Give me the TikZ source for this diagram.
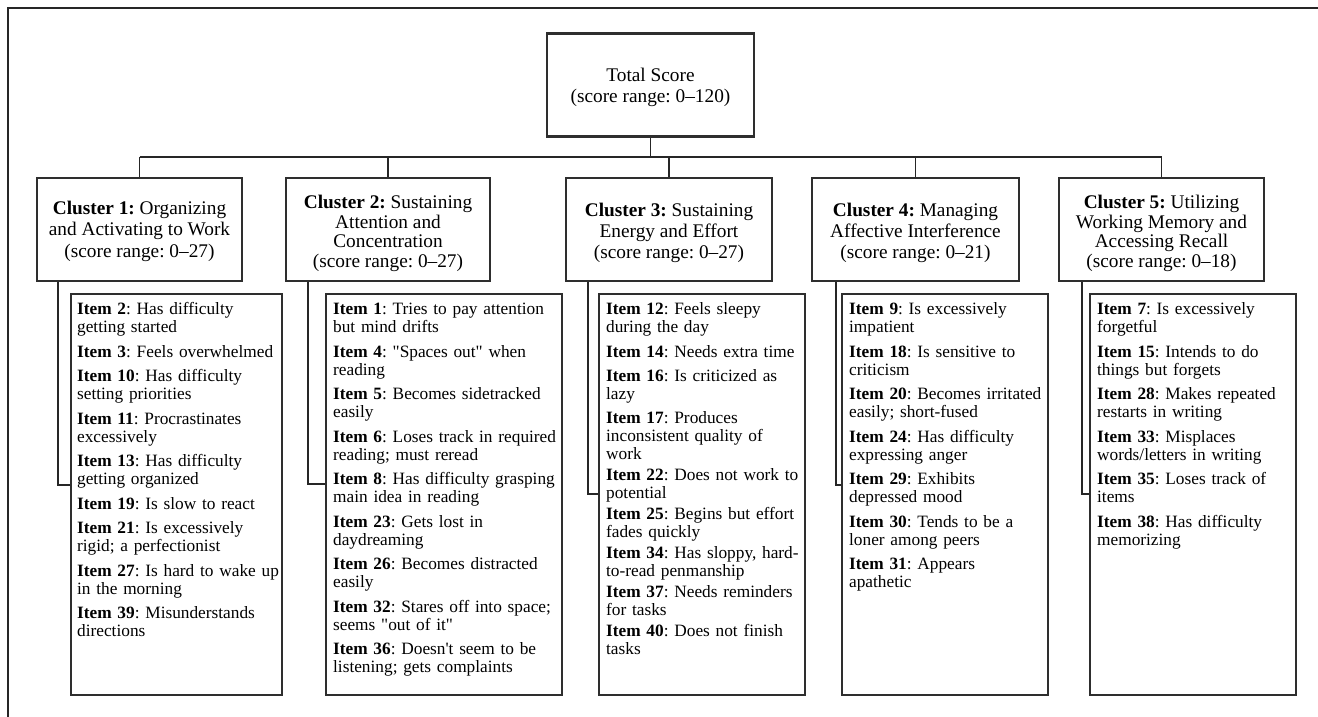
\documentclass[tikz,border=0pt]{standalone}
\usepackage{fontspec}
\setmainfont{Liberation Serif}
\frenchspacing
\begin{document}
\begin{tikzpicture}[x=1pt,y=-1pt,
  box/.style={draw=black!82, line width=2.1pt, inner sep=0pt},
  hdrtext/.style={inner sep=0pt, align=center, font=\fontsize{19.3}{21.5}\selectfont},
  hdrfour/.style={hdrtext, font=\fontsize{19.3}{19.7}\selectfont},
  itemtext/.style={anchor=base west, inner sep=0pt, text width=240pt, align=left, font=\fontsize{17.3}{18}\selectfont},
  bar/.style={draw=black!85, line width=1.8pt},
  drop/.style={draw=black!85, line width=1.3pt},
  frame/.style={draw=black!85, line width=1.5pt}]
\useasboundingbox (0,0) rectangle (1318,717);
\draw[frame] (8,717) -- (8,8) -- (1318,8);

% total
\node[box, minimum width=207pt, minimum height=103pt] (tot) at (650.5,85) {};
\node[hdrtext, font=\fontsize{19.3}{21}\selectfont, yshift=-2.5pt] (tott) at (tot) {Total Score\\(score range: 0--120)};

% clusters
\node[box, minimum width=205pt, minimum height=103pt] (c1) at (139.5,229.5) {};
\node[box, minimum width=204pt, minimum height=103pt] (c2) at (388,229.5) {};
\node[box, minimum width=206pt, minimum height=103pt] (c3) at (669,229.5) {};
\node[box, minimum width=207pt, minimum height=103pt] (c4) at (915.5,229.5) {};
\node[box, minimum width=205pt, minimum height=103pt] (c5) at (1161.5,229.5) {};
\node[hdrtext, yshift=-1.5pt] (c1t) at (c1) {\textbf{Cluster 1:} Organizing\\and Activating to Work\\(score range: 0--27)};
\node[hdrfour, yshift=-4pt] (c2t) at (c2) {\textbf{Cluster 2:} Sustaining\\Attention and\\Concentration\\(score range: 0--27)};
\node[hdrtext, font=\fontsize{19.3}{20.8}\selectfont, yshift=-3.5pt] (c3t) at (c3) {\textbf{Cluster 3:} Sustaining\\Energy and Effort\\(score range: 0--27)};
\node[hdrtext, font=\fontsize{19.3}{20.8}\selectfont, yshift=-3.5pt] (c4t) at (c4) {\textbf{Cluster 4:} Managing\\Affective Interference\\(score range: 0--21)};
\node[hdrfour, yshift=-4pt] (c5t) at (c5) {\textbf{Cluster 5:} Utilizing\\Working Memory and\\Accessing Recall\\(score range: 0--18)};

% item boxes
\node[box, minimum width=211pt, minimum height=401pt] (i1) at (176.5,494.5) {};
\node[box, minimum width=236pt, minimum height=401pt] (i2) at (444,494.5) {};
\node[box, minimum width=206pt, minimum height=401pt] (i3) at (702,494.5) {};
\node[box, minimum width=206pt, minimum height=401pt] (i4) at (945,494.5) {};
\node[box, minimum width=206pt, minimum height=401pt] (i5) at (1193,494.5) {};

\node[itemtext] (t1) at ([xshift=7pt,yshift=-22pt]i1.north west) {%
\textbf{Item 2}: Has difficulty\\getting started\\[6.5pt]
\textbf{Item 3}: Feels overwhelmed\\[6.5pt]
\textbf{Item 10}: Has difficulty\\setting priorities\\[6.5pt]
\textbf{Item 11}: Procrastinates\\excessively\\[6.5pt]
\textbf{Item 13}: Has difficulty\\getting organized\\[6.5pt]
\textbf{Item 19}: Is slow to react\\[6.5pt]
\textbf{Item 21}: Is excessively\\rigid; a perfectionist\\[6.5pt]
\textbf{Item 27}: Is hard to wake up\\in the morning\\[6.5pt]
\textbf{Item 39}: Misunderstands\\directions};

\node[itemtext] (t2) at ([xshift=8pt,yshift=-22pt]i2.north west) {%
\textbf{Item 1}: Tries to pay attention\\but mind drifts\\[6.5pt]
\textbf{Item 4}: \textquotedbl Spaces out\textquotedbl{} when\\reading\\[6.5pt]
\textbf{Item 5}: Becomes sidetracked\\easily\\[6.5pt]
\textbf{Item 6}: Loses track in required\\reading; must reread\\[6.5pt]
\textbf{Item 8}: Has difficulty grasping\\main idea in reading\\[6.5pt]
\textbf{Item 23}: Gets lost in\\daydreaming\\[6.5pt]
\textbf{Item 26}: Becomes distracted\\easily\\[6.5pt]
\textbf{Item 32}: Stares off into space;\\seems \textquotedbl out of it\textquotedbl\\[6.5pt]
\textbf{Item 36}: Doesn\textquotesingle t seem to be\\listening; gets complaints};

\node[itemtext] (t3) at ([xshift=8pt,yshift=-22pt]i3.north west) {%
\textbf{Item 12}: Feels sleepy\\during the day\\[6.5pt]
\textbf{Item 14}: Needs extra time\\[6pt]
\textbf{Item 16}: Is criticized as\\lazy\\[6.5pt]
\textbf{Item 17}: Produces\\inconsistent quality of\\work\\[3pt]
\textbf{Item 22}: Does not work to\\potential\\[3pt]
\textbf{Item 25}: Begins but effort\\fades quickly\\[3pt]
\textbf{Item 34}: Has sloppy, hard-\\to-read penmanship\\[3pt]
\textbf{Item 37}: Needs reminders\\for tasks\\[3pt]
\textbf{Item 40}: Does not finish\\tasks};

\node[itemtext] (t4) at ([xshift=8pt,yshift=-22pt]i4.north west) {%
\textbf{Item 9}: Is excessively\\impatient\\[6.5pt]
\textbf{Item 18}: Is sensitive to\\criticism\\[6.5pt]
\textbf{Item 20}: Becomes irritated\\easily; short-fused\\[6.5pt]
\textbf{Item 24}: Has difficulty\\expressing anger\\[6.5pt]
\textbf{Item 29}: Exhibits\\depressed mood\\[6.5pt]
\textbf{Item 30}: Tends to be a\\loner among peers\\[6.5pt]
\textbf{Item 31}: Appears\\apathetic};

\node[itemtext] (t5) at ([xshift=8pt,yshift=-22pt]i5.north west) {%
\textbf{Item 7}: Is excessively\\forgetful\\[6.5pt]
\textbf{Item 15}: Intends to do\\things but forgets\\[6.5pt]
\textbf{Item 28}: Makes repeated\\restarts in writing\\[6.5pt]
\textbf{Item 33}: Misplaces\\words/letters in writing\\[6.5pt]
\textbf{Item 35}: Loses track of\\items\\[6.5pt]
\textbf{Item 38}: Has difficulty\\memorizing};

% tree connectors
\coordinate (barline) at (0,157);
\draw[bar] (tot.south) -- (tot.south |- barline);
\draw[bar] (c1.north |- barline) -- (c5.north |- barline);
\foreach \c in {c1,c2,c3,c4,c5} \draw[drop] (\c.north |- barline) -- (\c.north);

% cluster to item connectors
\coordinate (j1) at (58,485);
\coordinate (j2) at (308,484);
\coordinate (j3) at (588,494);
\coordinate (j4) at (836,485);
\coordinate (j5) at (1082,494);
\foreach \n in {1,2,3,4,5}
  \draw[drop] (c\n.south -| j\n) -- (j\n) -- (j\n -| i\n.west);
\end{tikzpicture}
\end{document}
